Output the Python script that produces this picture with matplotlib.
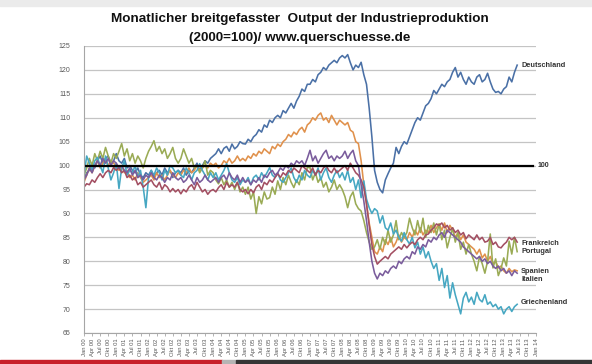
import matplotlib
matplotlib.use("Agg")
import matplotlib.pyplot as plt
from matplotlib.patches import Rectangle

plt.rcParams['font.family'] = ['Liberation Sans', 'DejaVu Sans']

# Monthly index values, Jan 2000 .. Jun 2013 (2000 = 100)
deutschland = [
    97.0, 98.5, 99.0, 100.5, 99.5, 101.0, 102.0, 100.5, 101.5, 102.0, 100.5, 101.0,
    102.5, 101.0, 100.5, 101.5, 99.5, 100.0, 99.0, 98.5, 99.5, 98.0, 97.5, 98.5,
    98.0, 99.0, 97.5, 98.5, 99.0, 98.0, 99.5, 98.5, 99.0, 97.5, 98.5, 99.0,
    98.5, 99.5, 98.0, 99.0, 98.5, 99.5, 100.5, 99.0, 100.0, 101.0, 100.5, 101.5,
    102.0, 102.5, 103.5, 102.5, 103.6, 104.0, 103.0, 104.5, 103.5, 104.0, 105.0, 104.6,
    104.5, 105.5, 105.0, 106.0, 106.5, 107.5, 107.0, 108.5, 108.0, 109.5, 109.0, 110.0,
    110.5, 110.0, 111.5, 111.0, 112.0, 113.0, 112.0, 113.5, 114.5, 116.0, 115.5, 117.0,
    117.0, 118.0, 117.5, 119.0, 119.5, 120.5, 120.0, 121.0, 121.5, 122.0, 121.5, 122.5,
    123.0, 122.5, 123.2, 121.5, 120.0, 121.0, 120.5, 121.6, 119.0, 117.0, 112.0, 106.0,
    99.0, 96.5, 95.0, 94.3, 97.0, 98.3, 99.5, 100.5, 103.8, 102.5, 104.0, 105.0,
    104.5, 106.0, 107.5, 109.0, 110.0, 109.5, 111.0, 112.5, 113.0, 114.0, 115.7, 115.0,
    116.0, 117.0, 116.5, 117.5, 118.0, 119.5, 120.5, 118.5, 119.5, 118.0, 117.0, 118.5,
    117.5, 117.0, 118.5, 119.0, 117.5, 118.0, 119.3, 117.5, 116.0, 115.3, 115.5, 115.0,
    116.0, 116.5, 118.5, 117.5, 119.5, 121.0,
]
spanien = [
    96.5, 98.0, 99.5, 98.5, 100.0, 101.0, 99.5, 100.5, 101.5, 100.0, 101.0, 100.5,
    100.0, 99.0, 100.0, 98.5, 99.0, 97.5, 98.0, 97.0, 98.5, 97.5, 96.5, 97.0,
    97.5, 98.0, 97.0, 98.5, 97.5, 98.0, 97.0, 98.0, 99.0, 98.0, 97.5, 98.5,
    98.0, 99.0, 98.5, 99.5, 98.5, 99.0, 100.0, 99.0, 99.5, 100.0, 99.5, 100.5,
    100.0, 100.5, 99.5, 100.0, 101.0, 100.5, 101.5, 100.5, 101.0, 102.0, 101.0, 101.5,
    101.0, 102.0, 101.5, 102.5, 102.0, 103.0, 102.5, 103.5, 103.0, 102.5, 104.0, 103.5,
    104.5, 104.0, 105.0, 105.5, 106.5, 106.0, 107.0, 106.5, 107.5, 108.0, 107.0, 108.5,
    109.0, 110.0, 109.5, 110.5, 111.0, 109.5, 110.0, 109.0, 110.5, 109.5, 108.5, 109.5,
    109.0, 108.5, 109.0, 107.4, 107.0, 105.0, 104.6, 101.0, 96.0, 92.0, 88.0, 85.0,
    82.0, 81.5, 83.0, 82.0, 84.5, 83.5, 85.0, 83.0, 84.0, 85.5, 84.0, 85.0,
    84.5, 86.0, 85.0, 86.5, 85.5, 87.0, 85.5, 86.5, 86.0, 87.5, 86.0, 87.0,
    87.8, 86.5, 88.0, 86.0, 87.5, 86.5, 85.0, 86.0, 84.5, 85.5, 84.0, 83.5,
    83.0, 82.5, 81.5, 82.5, 80.7, 81.5, 80.0, 81.0, 79.5, 80.0, 78.6, 79.0,
    78.0, 77.5, 78.5, 77.8, 78.2, 78.0,
]
portugal = [
    98.0, 99.5, 101.5, 100.0, 102.5, 101.0, 103.0, 101.5, 103.8, 102.0, 100.5, 102.5,
    101.5, 103.0, 104.6, 102.0, 103.5, 101.0, 102.5, 100.5, 102.0, 101.0, 99.5, 101.5,
    103.0, 104.0, 105.2, 103.0, 104.0, 102.5, 103.5, 101.5, 102.5, 103.8, 101.5, 100.5,
    101.5, 103.5, 102.0, 100.5, 101.5, 99.5, 100.0, 98.5, 99.5, 101.0, 98.0, 99.0,
    98.5, 97.0, 96.2, 97.5, 96.0, 97.0, 95.5, 96.5, 95.0, 96.5, 94.5, 95.5,
    94.0, 95.5, 93.0, 94.5, 90.0, 93.5, 92.0, 94.5, 93.0, 93.3, 95.5, 94.0,
    96.8, 95.0, 97.5, 96.0, 98.0, 96.5, 95.4, 97.0, 96.0, 98.5, 97.0, 99.6,
    99.6, 97.0, 98.5, 96.5, 97.5, 95.5, 96.5, 94.5, 95.5, 97.0, 95.0, 96.0,
    95.0, 93.5, 91.2, 93.5, 94.5, 92.0, 91.0, 90.5, 88.5, 86.0, 84.0, 82.5,
    83.0, 84.5, 82.5, 85.0, 83.5, 86.5, 84.0, 85.5, 88.5, 84.5, 86.0, 85.0,
    86.0, 89.0, 87.0, 85.5, 88.5, 86.0, 89.0, 85.0, 87.5, 86.0, 88.0, 85.5,
    87.8, 84.5, 86.5, 82.8, 85.0, 87.0, 84.0, 86.0, 82.5, 84.0, 81.5, 83.5,
    81.5, 80.0, 78.0, 81.0, 79.5, 77.5, 80.0, 85.7, 78.6, 80.5, 77.0, 78.5,
    80.7, 79.0, 84.2, 81.5, 85.0, 82.0,
]
griechenland = [
    98.0, 102.0, 100.5, 99.0, 101.0, 101.7, 100.0, 98.5, 102.0, 99.5, 97.0, 98.5,
    100.5, 95.2, 99.5, 101.0, 98.0, 99.0, 98.5, 100.0, 97.5, 99.0, 95.5, 91.2,
    97.5, 99.0, 98.0, 99.5, 98.5, 97.0, 99.0, 98.0, 100.0, 99.5, 98.5, 99.0,
    98.0, 97.5, 99.5, 98.5, 97.0, 98.5, 99.0, 100.4, 99.0, 98.0, 97.0, 98.5,
    97.5, 98.5, 97.0, 98.0, 99.0, 100.4, 98.5, 97.0, 96.5, 97.5, 96.0, 97.0,
    96.5, 97.5, 96.0, 97.5, 98.0, 97.0, 98.5, 97.5, 98.5, 99.6, 98.0, 97.5,
    98.5, 97.0, 96.5, 97.5, 98.5, 99.5, 97.5, 96.5, 98.0, 97.0, 99.0, 98.0,
    97.5, 99.0, 98.0, 99.5, 97.0, 98.5, 99.5, 97.5, 96.5, 98.0, 99.0, 97.5,
    98.5, 97.0, 99.0, 96.5, 97.5, 95.0, 97.0, 93.3, 96.8, 93.0, 91.2, 90.0,
    91.0, 90.5, 88.0, 89.5, 87.0, 86.5, 88.0, 85.7, 86.5, 85.0, 84.2, 86.0,
    84.5, 83.6, 85.0, 82.8, 84.0, 81.5, 83.0, 80.7, 82.0, 80.0, 78.5, 79.5,
    76.0, 78.5, 74.5, 77.0, 72.3, 75.5, 73.0, 71.0, 69.0, 72.3, 73.5, 71.5,
    72.5, 71.0, 73.5, 72.0, 71.5, 73.0, 71.0, 71.5, 70.5, 71.0, 70.0, 70.5,
    69.0, 70.0, 70.5, 69.5, 70.5, 71.0,
]
frankreich = [
    95.5, 96.2, 96.0, 97.0, 96.5, 97.5, 98.3, 97.5, 98.5, 99.0, 98.5, 99.6,
    99.0, 99.6, 98.5, 99.0, 97.5, 98.0, 97.0, 97.5, 96.0, 96.5, 95.5, 96.0,
    96.5, 97.0, 96.0, 95.5, 96.5, 95.0, 96.0, 95.5, 94.5, 95.2, 94.5, 95.0,
    94.1, 95.0, 94.5, 95.5, 96.0, 95.0, 96.5, 95.5, 94.5, 95.0, 94.0, 94.7,
    95.0, 94.5, 95.4, 96.0, 95.0, 96.5, 95.5, 96.0, 95.5, 96.5, 95.0, 94.5,
    95.0, 94.1, 95.0, 94.3, 95.5, 96.0, 95.0, 96.5, 96.0, 97.0, 96.5, 97.5,
    98.3, 97.5, 98.5, 98.0, 99.0, 98.5, 99.5, 99.0, 98.5, 100.0, 99.5, 99.0,
    98.5, 99.5, 98.0, 99.0, 98.5, 99.5, 100.0, 99.0, 98.5, 99.5, 98.5, 99.0,
    99.5, 100.0, 99.0, 100.5, 99.5, 98.5, 98.0, 97.0, 95.5, 92.0, 87.5, 83.5,
    81.0, 79.4, 80.0, 80.5, 81.0, 80.5, 81.5, 82.0, 82.5, 83.0, 82.5, 83.5,
    82.8, 83.5, 84.0, 83.5, 84.5, 85.0, 84.5, 85.5, 85.7, 86.5, 87.0, 87.8,
    87.5, 88.0, 87.0, 87.5, 86.5, 87.0, 86.0, 86.5, 85.5, 86.0, 84.7, 85.5,
    85.0, 84.5, 85.5, 84.5, 85.0, 84.0, 84.2, 85.0, 83.5, 84.0, 83.0, 82.8,
    83.5, 84.0, 85.0, 84.5, 85.0, 84.0,
]
italien = [
    97.0, 98.0, 99.5, 98.5, 100.0, 101.0, 100.0, 101.5, 100.5, 101.5, 100.0, 101.0,
    100.5, 99.5, 100.0, 99.0, 98.5, 99.5, 98.0, 99.0, 97.5, 98.0, 97.0, 98.0,
    97.5, 98.5, 97.5, 97.0, 98.0, 97.5, 96.5, 97.5, 97.0, 98.5, 97.5, 97.0,
    97.5, 96.5, 97.0, 98.0, 97.0, 96.0, 97.5, 96.5, 97.0, 98.0, 97.0, 96.5,
    97.0, 97.5, 96.5, 97.5, 98.0, 97.0, 98.5, 97.5, 97.0, 98.0, 96.5, 97.5,
    96.5, 97.0, 96.0, 97.0, 96.5, 97.5, 96.5, 98.0, 97.5, 98.5, 99.0, 98.0,
    98.5, 99.5, 99.0, 100.0, 99.5, 100.5, 100.0, 101.0, 100.5, 101.0, 100.0, 101.5,
    103.2, 101.0, 102.0, 100.5, 101.5, 102.5, 103.2, 101.5, 102.0, 101.0, 102.0, 101.5,
    102.0, 103.0, 101.5, 102.5, 103.2, 101.0, 100.0, 96.0, 92.6, 88.5, 84.0, 80.0,
    77.5, 76.3, 77.5, 77.0, 78.0, 77.5, 78.5, 79.0, 78.5, 80.0, 79.5, 80.5,
    81.0, 80.5, 82.0, 81.5, 83.0, 82.5, 83.5, 83.0, 84.5, 84.0, 85.0, 84.5,
    85.5, 86.0, 85.0, 86.5, 86.0, 85.5, 85.0, 84.5, 84.0, 83.0, 82.5, 82.0,
    81.5, 81.0, 80.5, 81.0, 80.0, 80.5, 79.5, 80.0, 79.0, 78.5, 79.0, 78.0,
    78.5, 77.5, 78.0, 77.0, 78.0, 77.5,
]

series_names = ["Deutschland", "Spanien", "Portugal", "Griechenland", "Frankreich", "Italien"]
series_values = [deutschland, spanien, portugal, griechenland, frankreich, italien]
series_colors = ["#4a70a6", "#e0914c", "#9aab55", "#46a7c2", "#a34f62", "#7a5c9c"]

# labels at right end: (name, y position in data units)
end_labels = ["Deutschland", "Frankreich", "Portugal", "Spanien", "Italien", "Griechenland"]
end_label_y = [120.9, 83.7, 82.0, 77.8, 76.1, 71.3]

month_abbr = ["Jan", "Apr", "Jul", "Okt"]
tick_labels = [f"{month_abbr[q]} {y:02d}" for y in range(0, 15) for q in range(4)][:57]
tick_pos = list(range(0, 169, 3))

reference_level = 100

W, H = 592, 364
fig = plt.figure(figsize=(W / 100, H / 100), dpi=100)
fig.patch.set_facecolor("white")

# plot area in pixels
left_px, right_px, top_px, bottom_px = 84, 536, 46, 333
ax = fig.add_axes([left_px / W, 1 - bottom_px / H, (right_px - left_px) / W, (bottom_px - top_px) / H])

ax.set_xlim(0, 168)
ax.set_ylim(65, 125)
ax.set_yticks(range(65, 126, 5))
ax.yaxis.grid(True, color="#c4c4c4", lw=0.9)
ax.set_axisbelow(True)

for name, vals, col in zip(series_names, series_values, series_colors):
    ax.plot(range(len(vals)), vals, color=col, lw=1.15, solid_joinstyle="round")

ax.plot([0, 167], [reference_level, reference_level], color="black", lw=1.6)

for sp in ["top", "right"]:
    ax.spines[sp].set_visible(False)
for sp in ["left", "bottom"]:
    ax.spines[sp].set_color("#a6a6a6")
    ax.spines[sp].set_linewidth(0.8)

ax.set_xticks(tick_pos)
ax.set_xticklabels(tick_labels, rotation=90, fontsize=4.2, color="#595959")
ax.tick_params(axis="x", length=2.5, width=0.6, color="#a6a6a6", pad=1.5)
ax.tick_params(axis="y", length=0, labelsize=5, labelcolor="#595959", pad=10)

lab_x = len(deutschland) - 0.5
for name, yv in zip(end_labels, end_label_y):
    ax.text(lab_x + 1.0, yv, name, fontsize=5.3, fontweight="bold", color="#333333",
            va="center", ha="left", clip_on=False)
ax.text(168.5, reference_level, "100", fontsize=5.0, fontweight="bold", color="#333333",
        va="center", ha="left", clip_on=False)

fig.text(300 / W, 1 - 19 / H, "Monatlicher breitgefasster  Output der Industrieproduktion",
         ha="center", va="center", fontsize=9.7, fontweight="bold", color="#111111")
fig.text(300 / W, 1 - 38 / H, "(2000=100)/ www.querschuesse.de",
         ha="center", va="center", fontsize=9.7, fontweight="bold", color="#111111")

# frame bands (top strip and bottom progress bar)
fig.patches.append(Rectangle((0, 1 - 6 / H), 1, 6 / H, transform=fig.transFigure,
                             color="#ebebeb", zorder=0))
fig.patches.append(Rectangle((0, 0), 222 / W, 4 / H, transform=fig.transFigure,
                             color="#c8202a", zorder=5))
fig.patches.append(Rectangle((222 / W, 0), 14 / W, 4 / H, transform=fig.transFigure,
                             color="#b5b5b5", zorder=5))
fig.patches.append(Rectangle((236 / W, 0), 1 - 236 / W, 4 / H, transform=fig.transFigure,
                             color="#353535", zorder=5))

fig.savefig("out.png", dpi=100, facecolor="white")
